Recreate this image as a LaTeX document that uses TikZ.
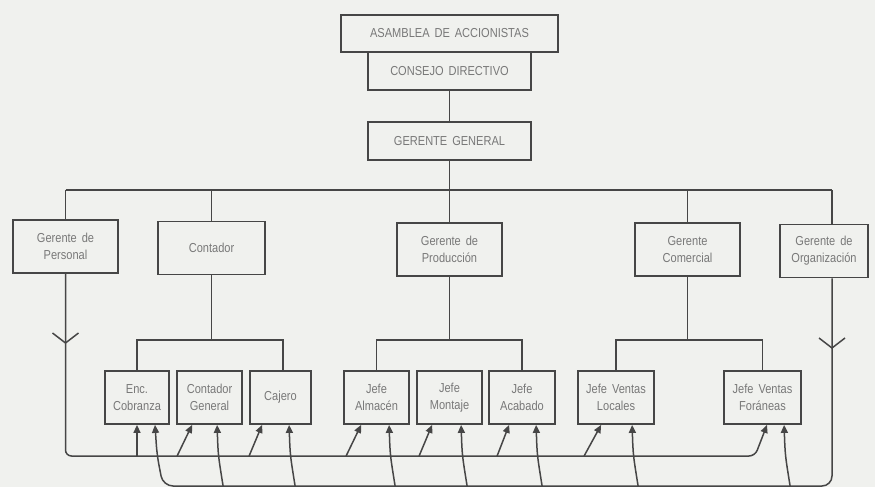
\documentclass[tikz,border=0pt]{standalone}
\usepackage{fontspec}
\setmainfont{Liberation Sans}[FakeStretch=0.85,WordSpace=1.6]
\usetikzlibrary{arrows.meta,calc}
\definecolor{bg}{RGB}{240,241,238}
\definecolor{ln}{RGB}{70,70,70}
\definecolor{tx}{RGB}{120,120,120}
\begin{document}
\begin{tikzpicture}[x=1pt,y=-1pt,
  box/.style={draw=ln,line width=1.8pt,fill=bg,inner sep=0pt,align=center,text=tx,
    font=\fontsize{13}{17}\selectfont},
  lvtwo/.style={box,minimum width=105pt,minimum height=53pt},
  lvthree/.style={box,minimum height=53pt},
  conn/.style={draw=ln,line width=1.5pt},
  arr/.style={conn,-{Triangle[length=8pt,width=7pt]}},
]
\fill[bg] (0,0) rectangle (875,487);
\useasboundingbox (0,0) rectangle (875,487);

% top
\node[box,minimum width=163pt,minimum height=38pt] (cons) at (449.5,71) {CONSEJO DIRECTIVO};
\node[box,minimum width=217pt,minimum height=37pt] (asam) at (449.5,33.5) {ASAMBLEA DE ACCIONISTAS};
\node[box,minimum width=163pt,minimum height=38pt] (gg) at (449.5,141) {GERENTE GENERAL};

% level 2
\node[lvtwo] (personal) at (65.5,246.5) {Gerente de\\Personal};
\node[lvtwo,minimum width=107pt] (contador) at (211.5,248) {Contador};
\node[lvtwo] (produccion) at (449.5,249.5) {Gerente de\\Producción};
\node[lvtwo] (comercial) at (687.5,249.5) {Gerente\\Comercial};
\node[lvtwo,minimum width=88pt] (organizacion) at (824,251) {Gerente de\\Organización};

% level 3
\node[lvthree,minimum width=64pt] (enc) at (137,397.5) {Enc.\\Cobranza};
\node[lvthree,minimum width=65pt] (cgen) at (209.5,397.5) {Contador\\General};
\node[lvthree,minimum width=61pt] (cajero) at (280.5,397.5) {Cajero};
\node[lvthree,minimum width=65pt] (almacen) at (376.5,397.5) {Jefe\\Almacén};
\node[lvthree,minimum width=65pt] (montaje) at (449.5,397.5) {Jefe\\Montaje};
\node[lvthree,minimum width=66pt] (acabado) at (522,397.5) {Jefe\\Acabado};
\node[lvthree,minimum width=76pt] (locales) at (616,397.5) {Jefe Ventas\\Locales};
\node[lvthree,minimum width=77pt] (foraneas) at (762.5,397.5) {Jefe Ventas\\Foráneas};

% coordinates
\coordinate (b1) at (65.5,190);
\coordinate (ot) at (832,190);
\coordinate (s1) at (0,340);
\coordinate (pb) at (65.5,456);
\coordinate (fb) at (755,456);
\coordinate (bb) at (0,486);

% top connectors
\draw[conn] (cons.south) -- (gg.north);
\draw[conn] (gg.south) -- (gg.south |- b1);
\draw[conn] (b1) -- (ot);
\draw[conn] (b1) -- (personal.north);
\draw[conn] (contador.north) -- (contador.north |- b1);
\draw[conn] (produccion.north) -- (produccion.north |- b1);
\draw[conn] (comercial.north) -- (comercial.north |- b1);
\draw[conn] (ot) -- (ot |- organizacion.north);

% sub-buses
\draw[conn] (contador.south) -- (contador.south |- s1);
\draw[conn] (enc.north) -- (enc.north |- s1) -- ($(cajero.north |- s1)+(2.5,0)$) -- ($(cajero.north)+(2.5,0)$);
\draw[conn] (produccion.south) -- (produccion.south |- s1);
\draw[conn] (almacen.north) -- (almacen.north |- s1) -- (acabado.north |- s1) -- (acabado.north);
\draw[conn] (comercial.south) -- (comercial.south |- s1);
\draw[conn] (locales.north) -- (locales.north |- s1) -- (foraneas.north |- s1) -- (foraneas.north);

% personal feedback line
\draw[arr,rounded corners=6pt] (personal.south) -- (pb) -- (fb) -- ($(foraneas.south)+(4.5,0)$);
\coordinate (py) at (65.5,343);
\draw[conn] ($(py)+(-13,-10)$) -- (py) -- ($(py)+(13,-10)$);
\draw[arr] (enc.south |- pb) -- (enc.south);
\draw[arr] ($(cgen.south west |- pb)+(1,0)$) -- ($(cgen.south west)+(16,0)$);
\draw[arr] ($(cajero.south west |- pb)+(0,0)$) -- ($(cajero.south west)+(13,0)$);
\draw[arr] ($(almacen.south west |- pb)+(3,0)$) -- ($(almacen.south west)+(18,0)$);
\draw[arr] ($(montaje.south west |- pb)+(3,0)$) -- ($(montaje.south west)+(16,0)$);
\draw[arr] ($(acabado.south west |- pb)+(9,0)$) -- ($(acabado.south west)+(21,0)$);
\draw[arr] ($(locales.south west |- pb)+(7,0)$) -- ($(locales.south west)+(24,0)$);

% organizacion feedback line
\coordinate (oy) at (832,348);
\draw[arr,rounded corners=10pt] (ot |- organizacion.south) -- (ot |- bb) -- ($(enc.south |- bb)+(26,0)$) -- ($(enc.south)+(20,30)$) -- ($(enc.south)+(18,0)$);
\draw[conn] ($(oy)+(-13,-10)$) -- (oy) -- ($(oy)+(13,-10)$);
\foreach \n/\dx in {cgen/41,cajero/40,almacen/46,montaje/45,acabado/48,locales/55,foraneas/61}{
  \draw[arr] ($(\n.south west |- bb)+(\dx+6,0)$) .. controls ($(\n.south west)+(\dx+1,30)$) .. ($(\n.south west)+(\dx,0)$);
}
\end{tikzpicture}
\end{document}
